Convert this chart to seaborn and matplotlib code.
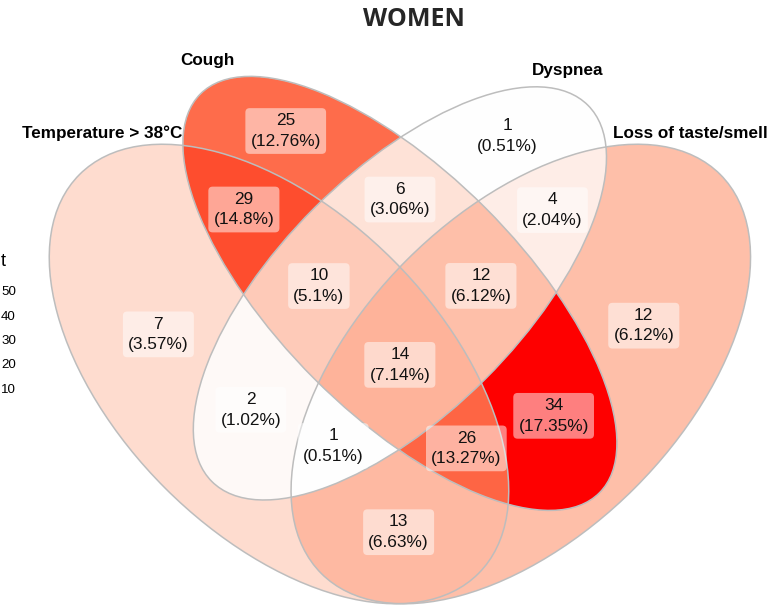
import numpy as np
import matplotlib
matplotlib.use("Agg")
import matplotlib.pyplot as plt
from matplotlib.patches import Ellipse
import seaborn as sns

# ---------------- data ----------------
set_names = ["Temperature > 38°C", "Cough", "Dyspnea", "Loss of taste/smell"]
set_keys = ["A", "B", "C", "D"]
region_sets = ["A", "B", "C", "D", "AB", "AC", "AD", "BC", "BD", "CD",
               "ABC", "ABD", "ACD", "BCD", "ABCD"]
region_counts = [7, 25, 1, 12, 29, 2, 13, 6, 34, 4, 10, 26, 1, 12, 14]
title = "WOMEN"
legend_title_visible = "t"          # last letter of the cut-off legend title
legend_ticks = [50, 40, 30, 20, 10]

# ---------------- layout ----------------
# ggVennDiagram 4-set ellipses: centre x, centre y, a, b, rotation (deg)
shapes = [(0.35, 0.47, 0.35, 0.20, 135),
          (0.50, 0.57, 0.35, 0.15, 135),
          (0.50, 0.57, 0.33, 0.15, 45),
          (0.65, 0.47, 0.35, 0.20, 45)]
W, H = 778, 606
scale = 806.0                      # pixels per unit
cx_px, cy_px = 279.0, 374.0        # pixel of (0.35, 0.47)
x0 = 0.35 - cx_px / scale
x1 = x0 + W / scale
y1 = 0.47 + cy_px / scale
y0 = y1 - H / scale

sns.set_theme(style="white")
plt.rcParams["font.family"] = ["Liberation Sans", "DejaVu Sans"]


# ---------------- colour scale (white -> red, CIELAB like ggplot) -------
def _srgb_to_lin(c):
    c = np.asarray(c, float)
    return np.where(c <= 0.04045, c / 12.92, ((c + 0.055) / 1.055) ** 2.4)


def _lin_to_srgb(c):
    c = np.clip(c, 0, 1)
    return np.where(c <= 0.0031308, 12.92 * c, 1.055 * c ** (1 / 2.4) - 0.055)


_M = np.array([[0.4124, 0.3576, 0.1805],
               [0.2126, 0.7152, 0.0722],
               [0.0193, 0.1192, 0.9505]])
_Mi = np.linalg.inv(_M)
_WP = np.array([0.95047, 1.0, 1.08883])


def _f(t):
    d = 6 / 29
    return np.where(t > d ** 3, np.cbrt(t), t / (3 * d * d) + 4 / 29)


def _fi(t):
    d = 6 / 29
    return np.where(t > d, t ** 3, 3 * d * d * (t - 4 / 29))


def rgb2lab(rgb):
    xyz = _M @ _srgb_to_lin(rgb) / _WP
    fx, fy, fz = _f(xyz)
    return np.array([116 * fy - 16, 500 * (fx - fy), 200 * (fy - fz)])


def lab2rgb(lab):
    L, a, b = lab
    fy = (L + 16) / 116
    fx = fy + a / 500
    fz = fy - b / 200
    xyz = np.array([_fi(fx), _fi(fy), _fi(fz)]) * _WP
    return _lin_to_srgb(_Mi @ xyz)


lab_lo = rgb2lab([1, 1, 1])
lab_hi = rgb2lab([1, 0, 0])
vmin, vmax = min(region_counts), max(region_counts)


def fill_colour(v):
    t = (v - vmin) / (vmax - vmin)
    return lab2rgb(lab_lo + t * (lab_hi - lab_lo))


# ---------------- rasterised regions ----------------
nx, ny = W * 3, H * 3
xs = x0 + (np.arange(nx) + 0.5) / nx * (x1 - x0)
ys = y0 + (np.arange(ny) + 0.5) / ny * (y1 - y0)
X, Y = np.meshgrid(xs, ys)
code = np.zeros(X.shape, int)
for k, (ex, ey, a, b, rot) in enumerate(shapes):
    th = np.deg2rad(rot)
    dx, dy = X - ex, Y - ey
    u = dx * np.cos(th) + dy * np.sin(th)
    v = -dx * np.sin(th) + dy * np.cos(th)
    inside = (u / a) ** 2 + (v / b) ** 2 <= 1
    code += inside.astype(int) << k

img = np.ones(X.shape + (4,))
img[..., 3] = 0
centroids = {}
for reg, cnt in zip(region_sets, region_counts):
    c = sum(1 << set_keys.index(s) for s in reg)
    m = code == c
    img[m, :3] = fill_colour(cnt)
    img[m, 3] = 1
    centroids[reg] = (X[m].mean(), Y[m].mean())

fig = plt.figure(figsize=(W / 100, H / 100), dpi=100)
ax = fig.add_axes([0, 0, 1, 1])
ax.imshow(img, extent=(x0, x1, y0, y1), origin="lower",
          interpolation="antialiased", zorder=1)
for ex, ey, a, b, rot in shapes:
    ax.add_patch(Ellipse((ex, ey), 2 * a, 2 * b, angle=rot, fill=False,
                         ec="#BDBDBD", lw=1.1, zorder=2))
ax.set_xlim(x0, x1)
ax.set_ylim(y0, y1)
ax.axis("off")

total = sum(region_counts)
for reg, cnt in zip(region_sets, region_counts):
    px, py = centroids[reg]
    pct = round(100 * cnt / total, 2)
    ax.text(px, py, f"{cnt}\n({pct:g}%)", ha="center", va="center",
            fontsize=12.4, color="#111111", linespacing=1.45, zorder=4,
            bbox=dict(boxstyle="round,pad=0.3,rounding_size=0.25",
                      fc="white", ec="none", alpha=0.5))

# set labels (pixel positions, top-left origin)
set_label_pos = [(102, 133), (207, 60), (568, 70), (690, 133)]
for name, (lx, ly) in zip(set_names, set_label_pos):
    fig.text(lx / W, 1 - ly / H, name, ha="center", va="center",
             fontsize=12.3, fontweight="bold", color="black")

fig.text(414 / W, 1 - 20 / H, title, ha="center", va="center",
         fontsize=18, fontweight="bold", family=["Open Sans", "DejaVu Sans"])

# legend fragment from the neighbouring panel (at the canvas edge)
fig.text(1 / W, 1 - 262 / H, legend_title_visible, ha="left", va="center",
         fontsize=13, color="black")
for i, t in enumerate(legend_ticks):
    fig.text(1 / W, 1 - (292 + i * 24.5) / H, str(t), ha="left",
             va="center", fontsize=9.6, color="black")

fig.savefig("out.png", dpi=100)
